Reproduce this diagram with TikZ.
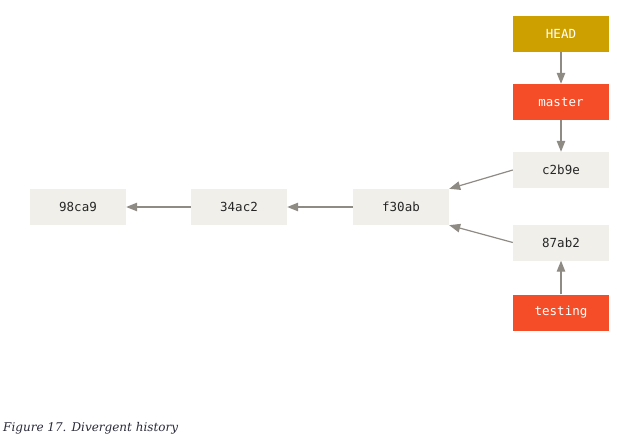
\documentclass[tikz,border=0pt]{standalone}
\usepackage{fontspec}
\setmonofont{DejaVu Sans Mono}
\setmainfont{DejaVu Serif}
\usetikzlibrary{arrows.meta}
\definecolor{commitfill}{HTML}{F0EFE9}
\definecolor{headfill}{HTML}{CDA000}
\definecolor{branchfill}{HTML}{F44D27}
\definecolor{arrowgrey}{HTML}{8E8A84}
\definecolor{captioncol}{HTML}{2A2A3A}
\tikzset{
  x=1pt,y=1pt,
  box/.style={minimum width=96pt,minimum height=36pt,inner sep=0pt,font=\ttfamily\fontsize{12.5}{14}\selectfont},
  commit/.style={box,fill=commitfill,text=black!85},
  branch/.style={box,fill=branchfill,text=white},
  headbox/.style={box,fill=headfill,text=white},
  conn/.style={draw=arrowgrey,line width=1.2pt,-{Triangle[length=11pt,width=8.5pt]},arrowgrey}
}
\begin{document}
\begin{tikzpicture}
\useasboundingbox (0,0) rectangle (617,440);
\node[headbox] (head) at (561,406) {HEAD};
\node[branch] (master) at (561,338) {master};
\node[commit] (c2b9e) at (561,270) {c2b9e};
\node[commit] (f30ab) at (401,233) {f30ab};
\node[commit] (a34ac2) at (239,233) {34ac2};
\node[commit] (a98ca9) at (78,233) {98ca9};
\node[commit] (a87ab2) at (561,197.5) {87ab2};
\node[branch] (testing) at (561,127.5) {testing};
\draw[conn] (head) -- (master);
\draw[conn] (master) -- (c2b9e);
\draw[conn] (c2b9e.west) -- (f30ab.north east);
\draw[conn] (a87ab2.west) -- (f30ab.south east);
\draw[conn] (f30ab) -- (a34ac2);
\draw[conn] (a34ac2) -- (a98ca9);
\draw[conn] (testing) -- (a87ab2);
\node[anchor=base west,inner sep=0pt,text=captioncol,font=\itshape\fontsize{12}{14}\selectfont] (caption) at (3,9) {Figure 17. Divergent history};
\end{tikzpicture}
\end{document}
